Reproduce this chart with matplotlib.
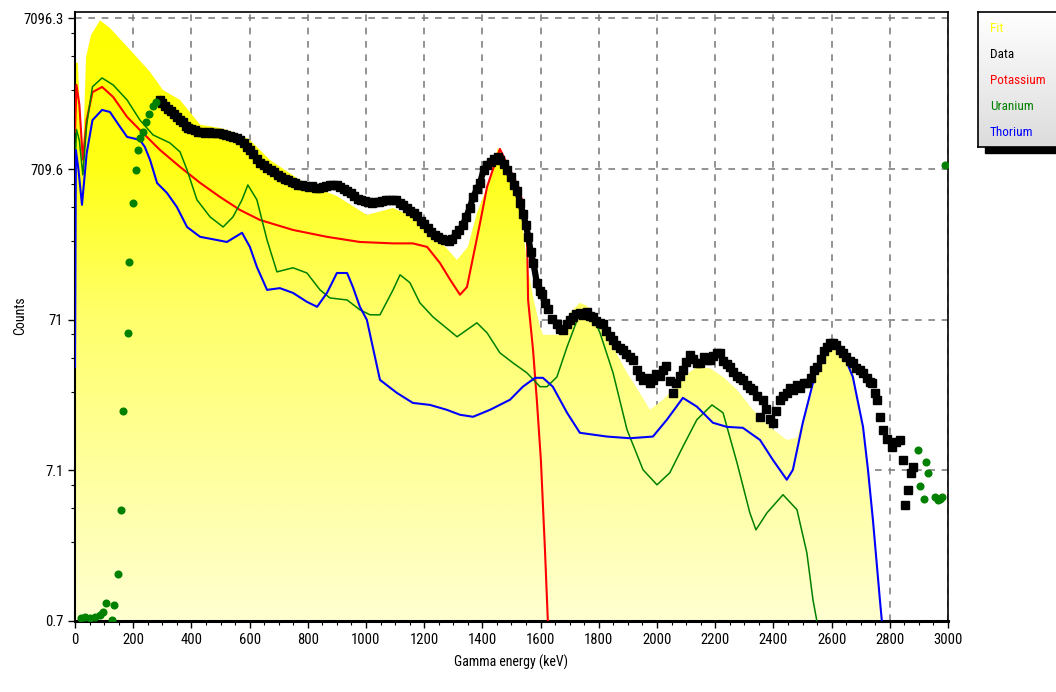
import matplotlib
matplotlib.use('Agg')
import matplotlib.pyplot as plt
import numpy as np
from matplotlib import font_manager
from matplotlib.colors import LinearSegmentedColormap
from matplotlib.patches import Rectangle

# gamma spectrum, values (keV, counts)
fit_E = [2, 10, 18, 28, 38, 55, 86, 120, 199, 258, 302, 361, 430, 500, 545, 574, 601, 670, 773, 842,
         900, 1003, 1093, 1161, 1220, 1313, 1350, 1381, 1426, 1453, 1490, 1529, 1553, 1574, 1598, 1608,
         1666, 1701, 1735, 1759, 1804, 1849, 1897, 1941, 1976, 2020, 2055, 2089, 2137, 2182, 2227, 2275,
         2330, 2388, 2446, 2481, 2515, 2560, 2601, 2639, 2673, 2687, 2708, 2725, 2742, 2759, 2773]
fit_C = [3600, 3600, 1500, 1000, 3940, 5500, 6900, 6138, 4188, 3133, 2381, 2042, 1400, 1330, 1250, 1180,
         1109, 816, 601, 520, 470, 352, 392, 342, 280, 177, 216, 363, 601, 981, 750, 424, 169, 101, 63.7,
         56.4, 56.4, 78.9, 91.9, 87.8, 70.8, 46.9, 31.5, 23.2, 17.9, 20.9, 24.3, 29.6, 34.5, 33.8, 29.6,
         24.3, 17.9, 13.8, 11.3, 11.7, 18.8, 34.5, 49.9, 44.8, 34.5, 21.8, 13.8, 7.16, 3.33, 1.33, 0.7]

data_E = [292, 300, 310, 320, 330, 340, 350, 360, 370, 380, 390, 400, 412, 424, 436, 448, 460, 472, 484,
          496, 508, 520, 532, 544, 556, 568, 580, 590, 600, 612, 624, 636, 648, 660, 672, 684, 696, 708,
          720, 732, 744, 756, 768, 780, 792, 804, 816, 828, 840, 852, 864, 876, 888, 900, 912, 924, 936,
          948, 960, 972, 984, 996, 1008, 1020, 1032, 1044, 1056, 1068, 1080, 1092, 1104, 1116, 1128, 1140,
          1152, 1164, 1176, 1188, 1200, 1212, 1224, 1236, 1248, 1260, 1272, 1284, 1296, 1308, 1320, 1332,
          1344, 1356, 1368, 1380, 1392, 1404, 1416, 1428, 1440, 1452, 1462, 1474, 1486, 1498, 1510, 1520,
          1530, 1540, 1550, 1558, 1566, 1575, 1587, 1597, 1605, 1615, 1625, 1640, 1656, 1667, 1677, 1690,
          1700, 1712, 1722, 1735, 1745, 1758, 1770, 1780, 1792, 1804, 1814, 1826, 1838, 1849, 1860, 1872,
          1883, 1895, 1906, 1917, 1930, 1942, 1952, 1964, 1976, 1986, 1998, 2010, 2020, 2032, 2044, 2055,
          2066, 2078, 2089, 2100, 2113, 2125, 2137, 2148, 2160, 2171, 2182, 2194, 2205, 2216, 2228, 2240,
          2251, 2262, 2274, 2285, 2295, 2308, 2320, 2330, 2342, 2354, 2364, 2376, 2388, 2398, 2410, 2422,
          2434, 2446, 2457, 2467, 2480, 2492, 2505, 2515, 2528, 2540, 2550, 2562, 2574, 2584, 2594, 2604,
          2616, 2628, 2639, 2650, 2662, 2673, 2685, 2697, 2708, 2720, 2732, 2739, 2750, 2756, 2766, 2776,
          2790, 2807, 2820, 2835, 2845, 2852, 2864, 2872, 2879]
data_C = [2042, 1950, 1850, 1780, 1720, 1640, 1570, 1510, 1450, 1380, 1340, 1310, 1290, 1260, 1255, 1240,
          1250, 1235, 1225, 1230, 1215, 1200, 1185, 1160, 1140, 1110, 1060, 1000, 950, 890, 830, 780, 750,
          720, 700, 680, 650, 630, 610, 600, 585, 570, 560, 555, 545, 540, 545, 535, 530, 540, 550, 555,
          560, 555, 540, 520, 505, 495, 470, 450, 440, 435, 430, 425, 430, 428, 435, 440, 445, 442, 440,
          425, 410, 390, 375, 365, 345, 320, 305, 290, 270, 258, 250, 245, 240, 236, 245, 262, 278, 300,
          340, 390, 460, 520, 575, 700, 760, 795, 830, 855, 820, 770, 700, 630, 560, 510, 420, 360, 300,
          250, 200, 170, 125, 110, 105, 92, 83, 72, 66, 62, 61, 66, 71, 74, 78, 79, 76, 80, 75, 74, 70, 68,
          66, 60, 55, 52, 48, 46, 44.8, 42, 40, 38.5, 33, 30, 28.3, 29, 27, 28.3, 31, 30, 33, 35, 28, 23.2,
          27, 30, 33, 37, 41.5, 39, 36.7, 36.7, 40, 38.5, 38.5, 41, 43, 42.8, 38, 36, 34.5, 32, 30, 29,
          28.3, 26, 25, 24.3, 22, 16.1, 20.9, 18, 15.5, 14.7, 17.5, 20.9, 22, 23, 25, 24.3, 26, 25, 27, 27,
          29, 33, 34.5, 39, 44, 46.9, 50, 49.9, 48, 45, 42.8, 40, 38, 36.7, 34, 33, 31.5, 29, 27.5, 27, 23,
          20.9, 16, 13.2, 11.5, 10.2, 11.0, 11.3, 8.34, 4.2, 5.27, 6.8, 7.5]

# data channels shown in green (outside the fitted range)
excl_E = [20, 36, 52, 68, 86, 97, 107, 126, 134, 149, 158, 165, 181, 187, 199, 210, 216, 225, 234, 245,
          256, 268, 280, 2897, 2903, 2917, 2924, 2931, 2955, 2965, 2972, 2979, 2989]
excl_C = [0.74, 0.75, 0.74, 0.75, 0.78, 0.82, 0.93, 0.72, 0.90, 1.46, 3.89, 17.6, 58, 172, 424, 701, 951,
          1150, 1253, 1450, 1650, 1850, 1980, 9.7, 5.6, 4.6, 8.1, 6.8, 4.7, 4.5, 4.6, 4.7, 757]

k_E = [0, 5, 15, 27, 40, 60, 93, 131, 179, 223, 292, 361, 430, 498, 567, 636, 749, 866, 979, 1093, 1161,
       1210, 1254, 1289, 1323, 1347, 1368, 1392, 1416, 1460, 1495, 1529, 1553, 1557, 1574, 1587, 1601,
       1615, 1625]
k_C = [1250, 2570, 1900, 820, 1500, 2300, 2492, 2138, 1575, 1291, 951, 734, 575, 464, 380, 326, 280, 252,
       233, 228, 228, 216, 169, 131, 104, 117, 185, 312, 541, 966, 701, 516, 293, 96, 44.8, 20.9, 8.3,
       2.1, 0.7]

u_E = [0, 5, 15, 27, 40, 60, 93, 131, 179, 223, 268, 326, 361, 385, 419, 464, 509, 543, 574, 594, 625,
       660, 694, 749, 797, 842, 876, 935, 979, 1014, 1048, 1093, 1117, 1151, 1185, 1230, 1313, 1381, 1416,
       1460, 1505, 1553, 1598, 1622, 1656, 1691, 1735, 1780, 1804, 1849, 1897, 1952, 2000, 2044, 2089,
       2137, 2189, 2227, 2275, 2319, 2340, 2378, 2433, 2481, 2515, 2536, 2550]
u_C = [700, 1300, 1100, 650, 1400, 2500, 2859, 2570, 2042, 1503, 1197, 1059, 923, 701, 444, 342, 293, 342,
       444, 557, 444, 240, 147.5, 157, 145, 112, 99, 96, 82.6, 76.5, 76.5, 112, 141, 125, 92, 74.1, 54.7,
       67.7, 58.1, 42.8, 36.7, 31.5, 25.5, 25.5, 29.6, 46.9, 78.9, 74.1, 58.1, 31.5, 13.2, 7.16, 5.69,
       6.84, 10.2, 15.4, 19.3, 17.1, 7.96, 3.71, 2.86, 3.71, 4.89, 3.89, 2.01, 0.98, 0.7]

th_E = [0, 3, 12, 24, 40, 60, 93, 120, 155, 179, 223, 240, 258, 282, 316, 350, 385, 430, 488, 522, 574,
        601, 625, 660, 704, 749, 797, 832, 866, 900, 935, 955, 979, 1003, 1048, 1106, 1161, 1220, 1278,
        1323, 1368, 1426, 1495, 1539, 1581, 1608, 1642, 1691, 1735, 1828, 1907, 1986, 2034, 2089, 2137,
        2192, 2240, 2295, 2354, 2398, 2446, 2467, 2501, 2550, 2601, 2639, 2673, 2687, 2708, 2725, 2742,
        2766, 2773]
th_C = [34.5, 950, 700, 411, 900, 1500, 1754, 1700, 1352, 1161, 1109, 996, 816, 574, 493, 398, 293, 252,
        240, 233, 268, 216, 159, 112, 115, 107, 93.3, 86.5, 107, 145, 145, 117, 86.5, 70.8, 28.3, 23.2,
        19.9, 19.3, 17.9, 16.6, 16.1, 17.9, 20.9, 25.5, 29.2, 29.2, 25.5, 17.1, 12.6, 11.9, 11.6, 11.9,
        15.4, 21.5, 18.8, 14.7, 13.8, 13.6, 11.3, 8.34, 6.15, 7.16, 14.7, 34.5, 50.6, 42.8, 29.6, 21.8,
        13.8, 7.16, 3.33, 0.98, 0.7]

y_ticks = [0.70963, 7.0963, 70.963, 709.63, 7096.3]
y_labels = ['0.7', '7.1', '71', '709.6', '7096.3']
legend_names = ['Fit', 'Data', 'Potassium', 'Uranium', 'Thorium']
legend_colors = ['#ffff00', 'black', '#ff0000', '#008000', '#0000ff']

# narrow font if one is installed
fonts = font_manager.fontManager.ttflist
names = {f.name for f in fonts}
stretch = 'normal'
narrow = 'DejaVu Sans'
for cand in ['Liberation Sans Narrow', 'Roboto Condensed', 'Open Sans Condensed']:
    if cand in names:
        narrow = cand
        break
else:
    if any(f.name == 'DejaVu Sans' and f.stretch == 'condensed' for f in fonts):
        stretch = 'condensed'

W, H = 1056, 692
fig = plt.figure(figsize=(W / 100, H / 100), dpi=100)
ax = fig.add_axes([75 / W, 1 - 621 / H, (948 - 75) / W, (621 - 12) / H])

ymin, ymax = 0.70963, 7835
ax.set_yscale('log')
ax.set_xlim(0, 3000)
ax.set_ylim(ymin, ymax)

# yellow fit area with vertical gradient
poly = ax.fill_between(fit_E, fit_C, ymin, color='none', lw=0)
cmap = LinearSegmentedColormap.from_list('fitgrad', [(0, (1, 1, 0.82)), (0.5, (1, 1, 0.42)),
                                                     (0.75, (1, 1, 0.08)), (1, (1, 1, 0))])
grad = np.linspace(0, 1, 256).reshape(-1, 1)
img = ax.imshow(grad, extent=[0, 1, 0, 1], transform=ax.transAxes, origin='lower',
                aspect='auto', cmap=cmap, zorder=1, interpolation='bilinear')
img.set_clip_path(poly.get_paths()[0], transform=ax.transData)
ax.set_xlim(0, 3000)
ax.set_ylim(ymin, ymax)

ax.plot(k_E, k_C, color='#ff0000', lw=1.5, zorder=3)
ax.plot(u_E, u_C, color='#008000', lw=1.1, zorder=3)
ax.plot(th_E, th_C, color='#0000ff', lw=1.5, zorder=3)
# dense part of the data forms a continuous band
n_dense = sum(e < 1600 for e in data_E)
ax.plot(data_E[:n_dense], data_C[:n_dense], '-', color='black', lw=4.5, zorder=4)
ax.plot(data_E, data_C, 's', color='black', ms=5.4, zorder=4)
ax.plot(excl_E, excl_C, 'o', color='#008000', ms=4.8, zorder=4)

ax.set_xticks(np.arange(0, 3001, 200))
ax.set_xticks(np.arange(0, 3001, 50), minor=True)
ax.set_yticks(y_ticks)
ax.set_yticklabels(y_labels)
minor = []
for t in y_ticks[1:]:
    minor += [t * 0.8, t * 0.56, t * 0.333]
ax.set_yticks(minor, minor=True)
ax.yaxis.set_minor_formatter(plt.NullFormatter())

ax.set_axisbelow(True)
ax.grid(True, which='major', color='#808080', linestyle=(0, (4, 4)), lw=1.2)
ax.tick_params(which='major', direction='out', length=5, width=1, labelsize=10.5, colors='black')
ax.tick_params(which='minor', direction='out', length=3, width=0.8)
for lab in ax.get_xticklabels() + ax.get_yticklabels():
    lab.set_family(narrow)
    lab.set_fontstretch(stretch)

for side, w in [('left', 1.5), ('bottom', 2.2), ('top', 1.2), ('right', 1.2)]:
    ax.spines[side].set_linewidth(w)
    ax.spines[side].set_color('black')

ax.set_xlabel('Gamma energy (keV)', fontsize=10, family=narrow, fontstretch=stretch, labelpad=6)
fig.text(20 / W, 1 - 316 / H, 'Counts', rotation=90, fontsize=10, family=narrow,
         fontstretch=stretch, ha='center', va='center')

# legend box at top right
fig.add_artist(Rectangle((985 / W, 1 - 153 / H), (W - 985) / W, 10 / H, transform=fig.transFigure,
                         color='black', zorder=0))
lax = fig.add_axes([978 / W, 1 - 147 / H, 90 / W, 135 / H])
lax.imshow(np.linspace(0, 1, 100).reshape(-1, 1), aspect='auto', extent=[0, 1, 0, 1],
           cmap=LinearSegmentedColormap.from_list('lg', ['#dcdcdc', '#ffffff']), origin='lower')
lax.set_xticks([])
lax.set_yticks([])
for s in lax.spines.values():
    s.set_linewidth(1.2)
    s.set_color('black')
for i, (name, c) in enumerate(zip(legend_names, legend_colors)):
    fig.text(990 / W, 1 - (28 + 26.2 * i) / H, name, color=c, fontsize=9.5, family=narrow,
             fontstretch=stretch, va='center')

fig.savefig('out.png', dpi=100)
